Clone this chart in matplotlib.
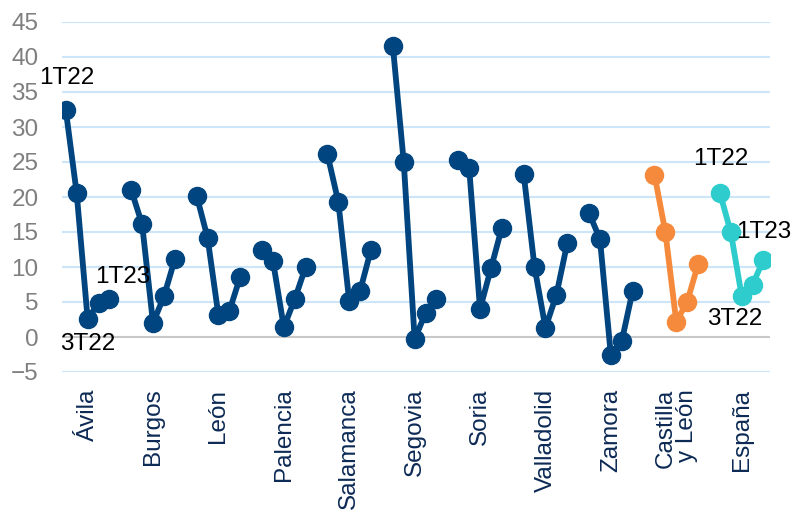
import matplotlib
matplotlib.use("Agg")
import matplotlib.pyplot as plt
import numpy as np

plt.rcParams['font.family'] = ['Liberation Sans', 'DejaVu Sans']

categories = ["Ávila", "Burgos", "León", "Palencia", "Salamanca", "Segovia",
              "Soria", "Valladolid", "Zamora", "Castilla\ny León", "España"]
periods = ["1T22", "2T22", "3T22", "4T22", "1T23"]

avila = [32.4, 20.5, 2.6, 4.8, 5.5]
burgos = [21.0, 16.1, 2.0, 5.8, 11.1]
leon = [20.2, 14.2, 3.1, 3.7, 8.6]
palencia = [12.5, 10.9, 1.4, 5.4, 10.0]
salamanca = [26.1, 19.3, 5.1, 6.6, 12.5]
segovia = [41.6, 25.0, -0.3, 3.4, 5.5]
soria = [25.3, 24.2, 4.0, 9.8, 15.6]
valladolid = [23.3, 10.0, 1.3, 6.0, 13.4]
zamora = [17.7, 14.0, -2.6, -0.6, 6.6]
castilla_leon = [23.2, 15.0, 2.2, 5.0, 10.4]
espana = [20.6, 15.0, 5.9, 7.5, 11.0]

series = [avila, burgos, leon, palencia, salamanca, segovia, soria,
          valladolid, zamora, castilla_leon, espana]

navy = "#00457F"
colors = [navy] * 9 + ["#F68A3C", "#2ECCCC"]

fig = plt.figure(figsize=(7.93, 5.19), dpi=100)
ax = fig.add_axes([62 / 793, (519 - 372) / 519, (770 - 62) / 793, 350 / 519])

n = len(periods)
step = n + 1
centers = []
for i, (vals, col) in enumerate(zip(series, colors)):
    xs = np.arange(n) + i * step
    ax.plot(xs, vals, color=col, lw=4.2, marker='o', ms=13, zorder=3,
            solid_capstyle='round')
    centers.append(xs[2])

ax.set_xlim(-0.35, 64.6)
ax.set_ylim(-5, 45)
ax.set_yticks(np.arange(-5, 46, 5))
for y in np.arange(-5, 46, 5):
    if y == 0:
        ax.axhline(y, color="#C8C8C8", lw=1.5, zorder=1)
    else:
        ax.axhline(y, color="#CDE5F8", lw=1.5, zorder=1)

for s in ax.spines.values():
    s.set_visible(False)

ax.tick_params(axis='y', length=0, pad=17, labelsize=17.5, labelcolor="#7F7F7F")
ax.set_xticks(centers)
ax.set_xticklabels(categories, rotation=90, fontsize=17.5, color="#0C2A55",
                   multialignment='right', linespacing=1.0)
ax.tick_params(axis='x', length=0, pad=12)

# annotations
def ann(series_vals, idx, gi, label, dx, dy):
    x = gi * step + idx
    ax.annotate(label, xy=(x, series_vals[idx]), xytext=(dx, dy),
                textcoords='offset points', ha='center', va='center',
                fontsize=17.5, color='black', zorder=4)

ann(avila, 0, 0, "1T22", 1, 23.5)
ann(avila, 4, 0, "1T23", 9.5, 15.5)
ann(avila, 2, 0, "3T22", 0, -18)
ann(espana, 0, 10, "1T22", 1, 24)
ann(espana, 4, 10, "1T23", 0, 20)
ann(espana, 2, 10, "3T22", -5, -16.5)

fig.savefig("out.png", dpi=100)
